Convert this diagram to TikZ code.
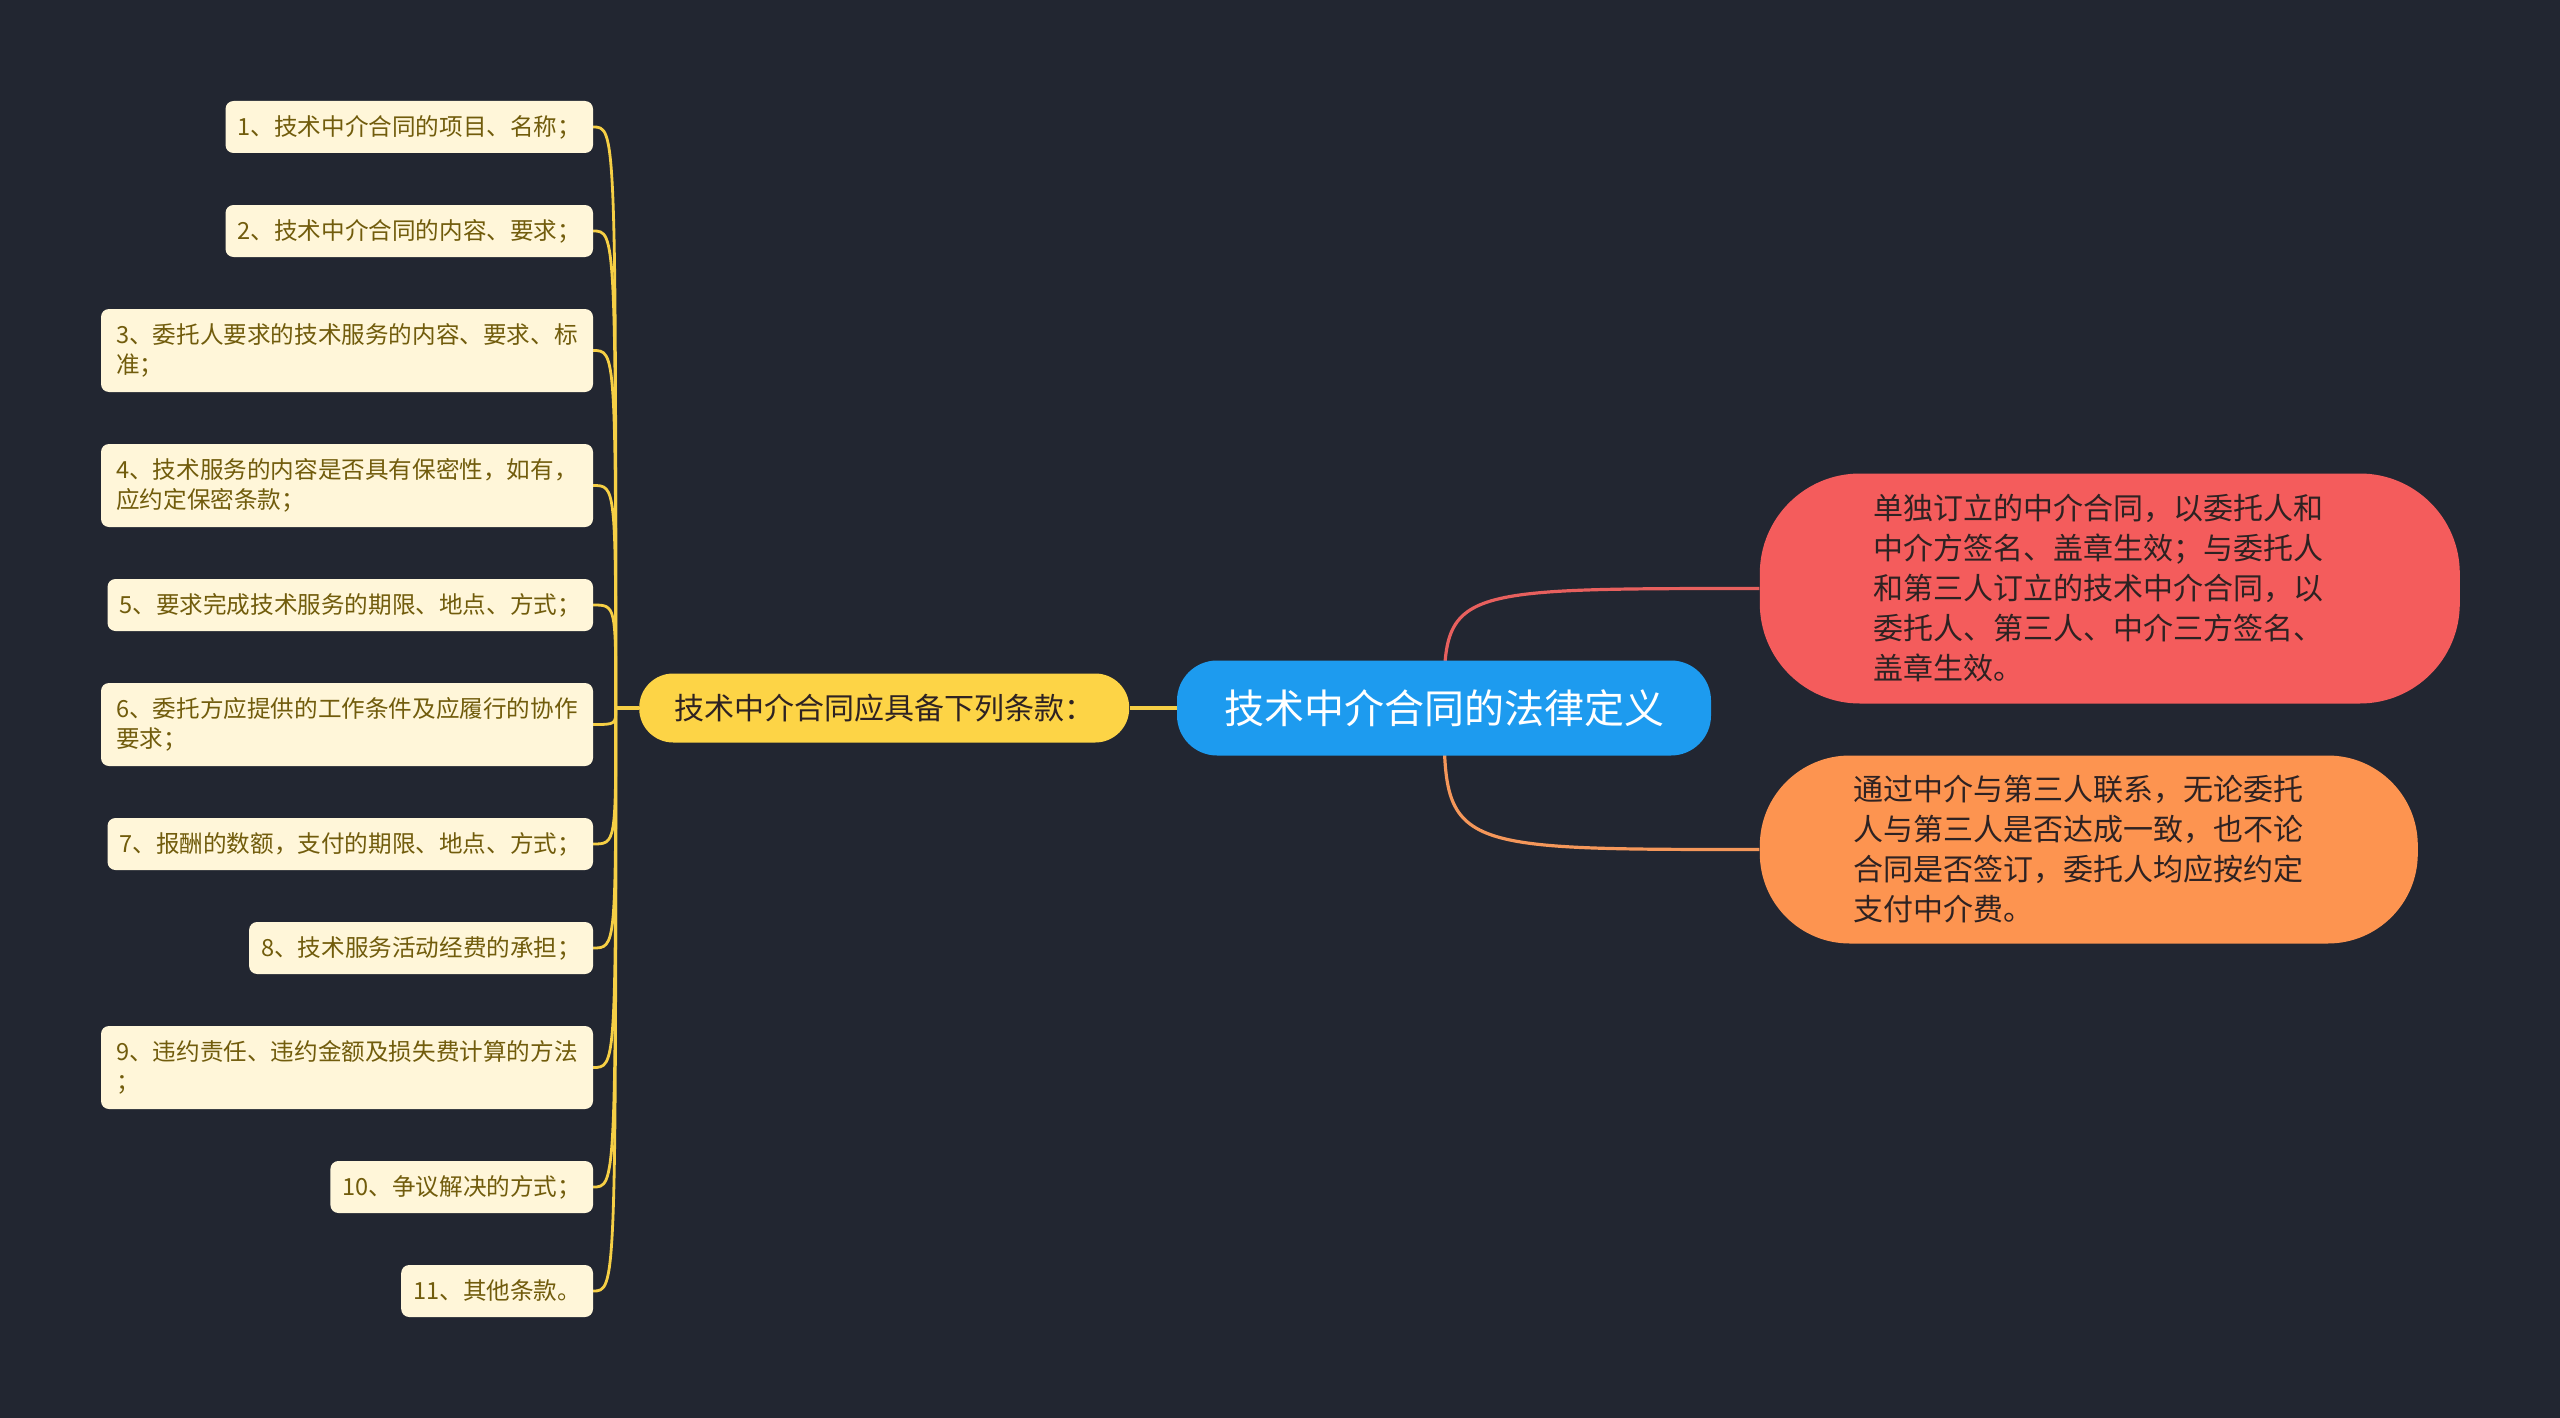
\documentclass[tikz,border=0pt]{standalone}
\usepackage{fontspec}
\setmainfont{Noto Sans CJK SC}
\usepackage{xcolor}
\usepackage{tikz}
\usetikzlibrary{positioning}

\definecolor{bgcol}{HTML}{222631}
\definecolor{leaffill}{HTML}{FFF6D9}
\definecolor{leaftext}{HTML}{715C0C}
\definecolor{topicfill}{HTML}{FDD446}
\definecolor{rootfill}{HTML}{1D9BEF}
\definecolor{redfill}{HTML}{F45C5C}
\definecolor{orangefill}{HTML}{FD9450}
\definecolor{yellowline}{HTML}{F6CF45}
\definecolor{redline}{HTML}{E8605E}
\definecolor{orangeline}{HTML}{F5975A}
\definecolor{darktext}{HTML}{2E2222}

\pgfdeclarelayer{links}
\pgfsetlayers{links,main}

\begin{document}
\begin{tikzpicture}[
    x=0.5pt, y=-0.5pt,
    node distance=26pt,
    leaf/.style={rectangle, fill=leaffill, text=leaftext, rounded corners=4pt, inner xsep=6pt, inner ysep=0pt, outer sep=0pt, minimum height=26pt, align=left, font=\fontsize{11.8}{14.7}\selectfont},
    leaftwo/.style={leaf, minimum height=41.5pt, minimum width=246pt},
    topic/.style={rectangle, rounded corners=17pt, fill=topicfill, text=darktext, minimum height=34.5pt, inner xsep=17.5pt, font=\fontsize{15}{18}\selectfont},
    rootbox/.style={rectangle, rounded corners=20pt, fill=rootfill, text=white, minimum height=47.5pt, inner xsep=23.5pt, font=\fontsize{20}{24}\selectfont},
    bubble/.style={rectangle, text=darktext, align=left, font=\fontsize{15}{20}\selectfont},
    leafline/.style={yellowline, line width=1.4pt},
    mainline/.style={yellowline, line width=2pt}
]
\useasboundingbox (0,0) rectangle (2560,1418);

% Nodes
\node[rootbox] (root) at (1444,708) {技术中介合同的法律定义};
\node[topic, left=23.5pt of root] (mid) {技术中介合同应具备下列条款：};
\node[bubble, fill=redfill, rounded corners=50pt, text width=236pt, minimum width=350pt, minimum height=115pt, right=24pt of root, yshift=59.75pt] (red) {单独订立的中介合同，以委托人和\\中介方签名、盖章生效；与委托人\\和第三人订立的技术中介合同，以\\委托人、第三人、中介三方签名、\\盖章生效。};
\node[bubble, fill=orangefill, rounded corners=45pt, text width=235pt, minimum width=329pt, minimum height=94pt, right=24pt of root, yshift=-70.75pt] (orange) {通过中介与第三人联系，无论委托\\人与第三人是否达成一致，也不论\\合同是否签订，委托人均应按约定\\支付中介费。};

% Clauses
\node[leaf, anchor=north east] (l1) at (593,101) {1、技术中介合同的项目、名称；};
\node[leaf, below=of l1.south east, anchor=north east] (l2) {2、技术中介合同的内容、要求；};
\node[leaftwo, below=of l2.south east, anchor=north east] (l3) {3、委托人要求的技术服务的内容、要求、标\\准；};
\node[leaftwo, below=of l3.south east, anchor=north east] (l4) {4、技术服务的内容是否具有保密性，如有，\\应约定保密条款；};
\node[leaf, below=of l4.south east, anchor=north east] (l5) {5、要求完成技术服务的期限、地点、方式；};
\node[leaftwo, below=of l5.south east, anchor=north east] (l6) {6、委托方应提供的工作条件及应履行的协作\\要求；};
\node[leaf, below=of l6.south east, anchor=north east] (l7) {7、报酬的数额，支付的期限、地点、方式；};
\node[leaf, below=of l7.south east, anchor=north east] (l8) {8、技术服务活动经费的承担；};
\node[leaftwo, below=of l8.south east, anchor=north east] (l9) {9、违约责任、违约金额及损失费计算的方法\\；};
\node[leaf, below=of l9.south east, anchor=north east] (l10) {10、争议解决的方式；};
\node[leaf, below=of l10.south east, anchor=north east] (l11) {11、其他条款。};

\coordinate (hub) at ([xshift=-11.5pt]mid.west);

% Links
\begin{pgfonlayer}{links}
\fill[bgcol] (0,0) rectangle (2560,1418);
\foreach \i in {1,...,11}
    \draw[leafline] (hub) .. controls (hub |- l\i.east) .. (l\i.east);
\draw[mainline] (hub) -- (mid.west);
\draw[mainline] (mid.east) -- (root.west);
\draw[redline, line width=1.6pt] (root.center) .. controls (root.center |- red.west) .. (red.west);
\draw[orangeline, line width=1.6pt] (root.center) .. controls (root.center |- orange.west) .. (orange.west);
\end{pgfonlayer}

\end{tikzpicture}
\end{document}
